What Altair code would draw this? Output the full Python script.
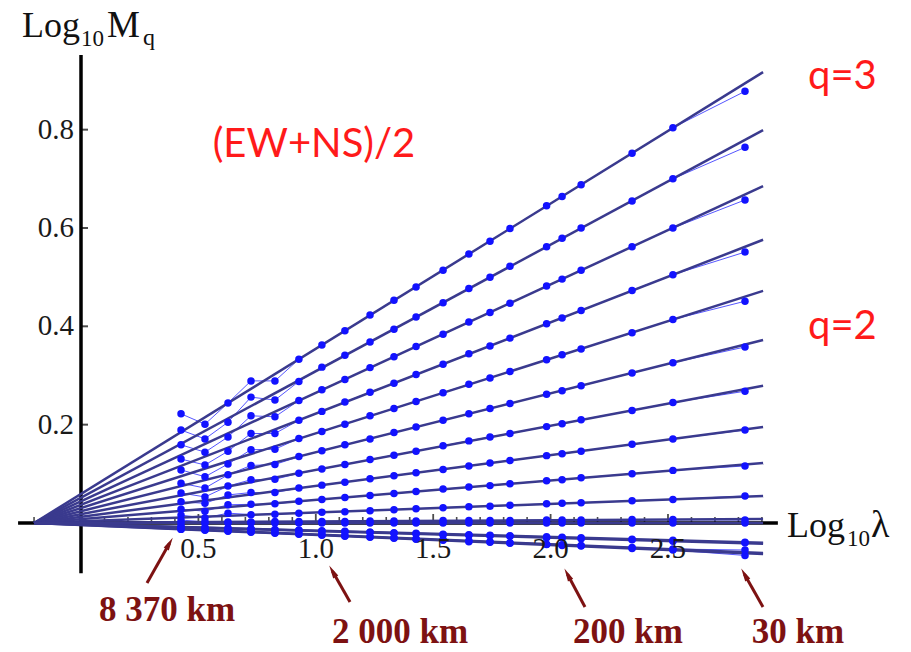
import altair as alt
import pandas as pd

# ---------------- data ----------------
log_lambda = [0.426, 0.528, 0.626, 0.724, 0.826, 0.928, 1.026, 1.124, 1.231, 1.333, 1.427,
              1.542, 1.652, 1.742, 1.827, 1.983, 2.049, 2.130, 2.347, 2.521, 2.828]

q_values = [3.0, 2.8, 2.6, 2.4, 2.2, 2.0, 1.8, 1.6, 1.4, 1.2, 1.0, 0.8, 0.6, 0.4, 0.2, 0.0]

logM_q30 = [0.222, 0.201, 0.244, 0.289, 0.289, 0.333, 0.362, 0.391, 0.423, 0.453, 0.480, 0.514, 0.547, 0.573, 0.599, 0.645, 0.664, 0.688, 0.752, 0.804, 0.878]
logM_q28 = [0.189, 0.171, 0.205, 0.256, 0.250, 0.288, 0.317, 0.341, 0.368, 0.394, 0.419, 0.448, 0.477, 0.500, 0.522, 0.562, 0.579, 0.600, 0.655, 0.700, 0.764]
logM_q26 = [0.159, 0.144, 0.175, 0.218, 0.216, 0.249, 0.271, 0.292, 0.316, 0.338, 0.359, 0.384, 0.409, 0.428, 0.447, 0.482, 0.496, 0.514, 0.562, 0.600, 0.657]
logM_q24 = [0.130, 0.118, 0.146, 0.182, 0.182, 0.209, 0.227, 0.246, 0.266, 0.284, 0.302, 0.323, 0.344, 0.360, 0.376, 0.405, 0.417, 0.432, 0.473, 0.505, 0.551]
logM_q22 = [0.108, 0.094, 0.120, 0.149, 0.150, 0.172, 0.186, 0.201, 0.218, 0.233, 0.247, 0.265, 0.282, 0.295, 0.308, 0.332, 0.342, 0.354, 0.387, 0.414, 0.451]
logM_q20 = [0.081, 0.071, 0.098, 0.117, 0.119, 0.135, 0.147, 0.159, 0.171, 0.184, 0.195, 0.209, 0.222, 0.233, 0.243, 0.262, 0.269, 0.279, 0.305, 0.326, 0.358]
logM_q18 = [0.061, 0.053, 0.075, 0.088, 0.089, 0.101, 0.110, 0.119, 0.129, 0.138, 0.146, 0.157, 0.167, 0.175, 0.182, 0.196, 0.202, 0.210, 0.229, 0.245, 0.268]
logM_q16 = [0.043, 0.040, 0.057, 0.062, 0.062, 0.071, 0.077, 0.083, 0.090, 0.096, 0.102, 0.109, 0.116, 0.122, 0.127, 0.137, 0.141, 0.146, 0.160, 0.171, 0.189]
logM_q14 = [0.028, 0.024, 0.037, 0.038, 0.039, 0.044, 0.048, 0.052, 0.056, 0.060, 0.064, 0.069, 0.073, 0.076, 0.080, 0.086, 0.088, 0.092, 0.100, 0.107, 0.116]
logM_q12 = [0.016, 0.010, 0.020, 0.017, 0.018, 0.020, 0.022, 0.023, 0.025, 0.027, 0.029, 0.031, 0.033, 0.034, 0.036, 0.039, 0.040, 0.041, 0.045, 0.048, 0.055]
logM_q10 = [0.006, 0.002, 0.002, 0.002, 0.003, 0.003, 0.003, 0.003, 0.004, 0.004, 0.004, 0.005, 0.005, 0.005, 0.005, 0.006, 0.006, 0.006, 0.007, 0.007, 0.006]
logM_q08 = [-0.008, -0.010, -0.011, -0.012, -0.014, -0.015, -0.017, -0.018, -0.019, -0.021, -0.022, -0.024, -0.025, -0.026, -0.027, -0.030, -0.030, -0.032, -0.034, -0.037, -0.039]
logM_q06 = [-0.013, -0.015, -0.017, -0.019, -0.021, -0.023, -0.025, -0.027, -0.029, -0.031, -0.033, -0.035, -0.038, -0.039, -0.041, -0.044, -0.046, -0.047, -0.052, -0.055, -0.066]
logM_q04 = [-0.012, -0.014, -0.016, -0.018, -0.020, -0.022, -0.024, -0.026, -0.028, -0.030, -0.032, -0.034, -0.036, -0.038, -0.040, -0.043, -0.044, -0.046, -0.050, -0.053, -0.055]
logM_q02 = [-0.008, -0.009, -0.011, -0.012, -0.013, -0.015, -0.016, -0.017, -0.019, -0.020, -0.021, -0.023, -0.024, -0.025, -0.026, -0.028, -0.029, -0.030, -0.033, -0.035, -0.040]
logM_q00 = [0.000, 0.000, 0.000, 0.000, 0.000, 0.000, 0.000, 0.000, 0.000, 0.000, 0.000,
            0.000, 0.000, 0.000, 0.000, 0.000, 0.000, 0.000, 0.000, 0.000, 0.000]

series = [logM_q30, logM_q28, logM_q26, logM_q24, logM_q22, logM_q20, logM_q18, logM_q16,
          logM_q14, logM_q12, logM_q10, logM_q08, logM_q06, logM_q04, logM_q02, logM_q00]

# fitted straight lines: common origin and value at the right end
fit_x_start = -0.2
fit_y_start = 0.0
fit_x_end = 2.905
fit_y_end = [0.917, 0.799, 0.685, 0.576, 0.472, 0.372, 0.279, 0.195, 0.122, 0.055, 0.008,
             -0.042, -0.063, -0.061, -0.040, 0.0]

x_major_ticks = [0.5, 1.0, 1.5, 2.0, 2.5]
x_major_labels = ["0.5", "1.0", "1.5", "2.0", "2.5"]
x_minor_ticks = [-0.2, -0.1, 0.1, 0.2, 0.3, 0.4, 0.6, 0.7, 0.8, 0.9, 1.1, 1.2, 1.3, 1.4,
                 1.6, 1.7, 1.8, 1.9, 2.1, 2.2, 2.3, 2.4, 2.6, 2.7, 2.8, 2.9]
y_ticks = [0.2, 0.4, 0.6, 0.8]
y_labels = ["0.2", "0.4", "0.6", "0.8"]

scale_labels = ["8 370 km", "2 000 km", "200 km", "30 km"]

# ---------------- tables ----------------
pts_rows = []
for q, vals in zip(q_values, series):
    for xv, yv in zip(log_lambda, vals):
        pts_rows.append({"q": q, "x": xv, "y": yv})
df_pts = pd.DataFrame(pts_rows)

fit_rows = []
for q, ye in zip(q_values, fit_y_end):
    fit_rows.append({"q": q, "x": fit_x_start, "y": fit_y_start})
    fit_rows.append({"q": q, "x": fit_x_end, "y": ye})
df_fit = pd.DataFrame(fit_rows)

# plot area covers the whole canvas; these domains place the origin as in the picture
xs = alt.Scale(domain=[-0.345, 3.535], nice=False, zero=False)
ys = alt.Scale(domain=[-0.2624, 1.0637], nice=False, zero=False)


def X(f="x"):
    return alt.X(f"{f}:Q", scale=xs, axis=None)


def Y(f="y"):
    return alt.Y(f"{f}:Q", scale=ys, axis=None)


SERIF = "Liberation Serif"

# axes lines
df_xaxis = pd.DataFrame({"x": [-0.268], "x2": [2.968], "y": [0.0]})
df_yaxis = pd.DataFrame({"x": [0.0], "y": [-0.102], "y2": [0.952]})
xaxis = alt.Chart(df_xaxis).mark_rule(color="black", strokeWidth=3.5).encode(
    x=X(), x2="x2:Q", y=Y())
yaxis = alt.Chart(df_yaxis).mark_rule(color="black", strokeWidth=3.5).encode(
    x=X(), y=Y(), y2="y2:Q")

df_minor = pd.DataFrame({"x": x_minor_ticks, "y": 0.0})
df_major = pd.DataFrame({"x": x_major_ticks, "y": 0.0, "label": x_major_labels})
df_yt = pd.DataFrame({"x": 0.0, "y": y_ticks, "label": y_labels})

minor_ticks = alt.Chart(df_minor).mark_tick(
    orient="vertical", size=6, thickness=1.6, color="black", yOffset=-3).encode(x=X(), y=Y())
major_ticks = alt.Chart(df_major).mark_tick(
    orient="vertical", size=9, thickness=1.8, color="black", yOffset=-4.5).encode(x=X(), y=Y())
y_tick_marks = alt.Chart(df_yt).mark_tick(
    orient="horizontal", size=7, thickness=2, color="black", xOffset=3.5).encode(x=X(), y=Y())

x_tick_text = alt.Chart(df_major).mark_text(
    font=SERIF, fontSize=29, color="#1a1a1a", align="center", baseline="alphabetic", dy=35
).encode(x=X(), y=Y(), text="label:N")
y_tick_text = alt.Chart(df_yt).mark_text(
    font=SERIF, fontSize=29, color="#1a1a1a", align="right", baseline="middle", dx=-7
).encode(x=X(), y=Y(), text="label:N")

# axis titles (with subscripts)
df_titles = pd.DataFrame({
    "x": [-0.2513, 0.0, 0.1107, 0.2641, 3.0068, 3.2624, 3.3646],
    "y": [0.9884, 0.9701, 0.9884, 0.9721, -0.0285, -0.0468, -0.0285],
    "t": ["Log", "10", "M", "q", "Log", "10", "λ"],
    "fs": [36, 23, 37, 24, 36, 23, 38],
})
titles = alt.Chart(df_titles).mark_text(
    font=SERIF, color="#111111", align="left", baseline="alphabetic"
).encode(x=X(), y=Y(), text="t:N", size=alt.Size("fs:Q", scale=None))

# data
thin = alt.Chart(df_pts).mark_line(color="#2b2bff", strokeWidth=1, opacity=0.8).encode(
    x=X(), y=Y(), detail="q:N", order="x:Q")
fit = alt.Chart(df_fit).mark_line(color="#3a3a8e", strokeWidth=2.5).encode(
    x=X(), y=Y(), detail="q:N")
pts = alt.Chart(df_pts).mark_circle(color="#1212ff", size=56, opacity=1).encode(x=X(), y=Y())

# red annotations
df_red = pd.DataFrame({
    "x": [0.9923, 3.0963, 3.0963],
    "y": [0.7444, 0.8827, 0.3742],
    "t": ["(EW+NS)/2", "q=3", "q=2"],
})
red_center = alt.Chart(df_red.iloc[:1]).mark_text(
    font="Lato", fontSize=40, color="#ff1a1a", align="center", baseline="alphabetic"
).encode(x=X(), y=Y(), text="t:N")
red_left = alt.Chart(df_red.iloc[1:]).mark_text(
    font="Lato", fontSize=40, color="#ff1a1a", align="left", baseline="alphabetic"
).encode(x=X(), y=Y(), text="t:N")

# scale labels with arrows
MAROON = "#7d1212"
df_km = pd.DataFrame({
    "x": [0.3663, 1.3586, 2.3297, 3.0537],
    "y": [-0.1993, -0.2441, -0.2441, -0.2441],
    "t": scale_labels,
})
km_text = alt.Chart(df_km).mark_text(
    font=SERIF, fontSize=35, fontWeight="bold", color=MAROON, align="center", baseline="alphabetic"
).encode(x=X(), y=Y(), text="t:N")

df_arrow = pd.DataFrame({
    "x": [0.2811, 1.1457, 2.1465, 2.9046],
    "y": [-0.1220, -0.1607, -0.1708, -0.1708],
    "x2": [0.3769, 1.0711, 2.0720, 2.8258],
    "y2": [-0.0413, -0.0982, -0.1043, -0.1043],
    "ang": [30, 330, 332, 330],
})
arrow_shaft = alt.Chart(df_arrow).mark_rule(color=MAROON, strokeWidth=3).encode(
    x=X(), y=Y(), x2="x2:Q", y2="y2:Q")
arrow_head = alt.Chart(df_arrow).mark_point(
    shape="M0,-1L0.45,1L-0.45,1Z", filled=True, size=170, color=MAROON, opacity=1
).encode(x=X("x2"), y=Y("y2"), angle=alt.Angle("ang:Q", scale=None))

chart = alt.layer(
    xaxis, yaxis, minor_ticks, major_ticks, y_tick_marks,
    thin, fit, pts,
    x_tick_text, y_tick_text, titles,
    red_center, red_left, km_text, arrow_shaft, arrow_head,
).properties(
    width=911, height=652, autosize=alt.AutoSizeParams(type="none"), padding=0,
    background="white",
).configure_view(stroke=None)

chart.save("out.html", embed_options={"renderer": "svg", "actions": False})
